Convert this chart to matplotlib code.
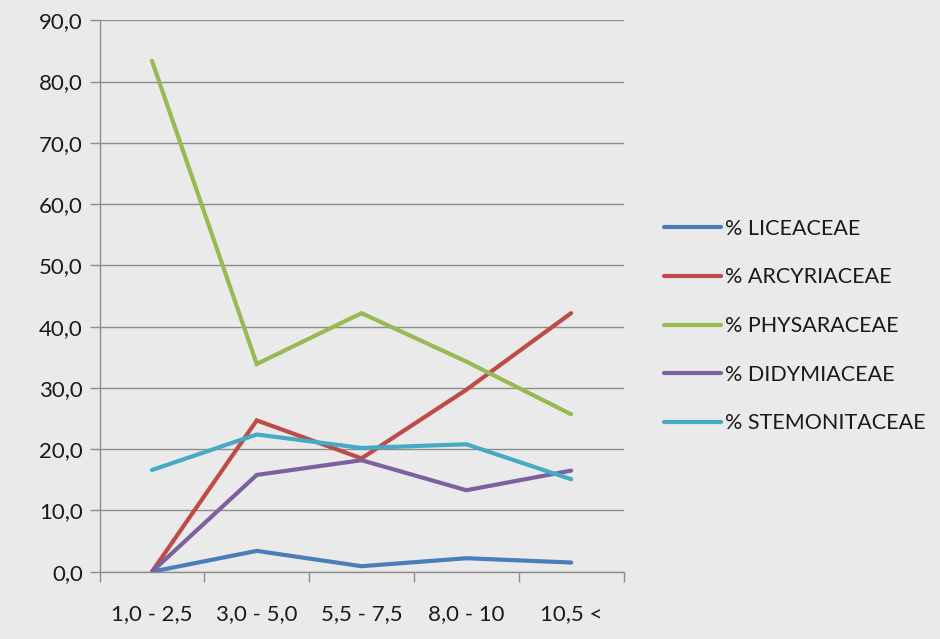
import matplotlib
matplotlib.use("Agg")
import matplotlib.pyplot as plt
from matplotlib.ticker import FixedLocator, FuncFormatter

# Size classes (cm) and share of each family (%)
categories = ["1,0 - 2,5", "3,0 - 5,0", "5,5 - 7,5", "8,0 - 10", "10,5 <"]
liceaceae = [0.0, 3.4, 0.9, 2.2, 1.5]
arcyriaceae = [0.0, 24.7, 18.5, 29.7, 42.2]
physaraceae = [83.4, 33.9, 42.2, 34.3, 25.7]
didymiaceae = [0.0, 15.8, 18.2, 13.3, 16.5]
stemonitaceae = [16.6, 22.4, 20.2, 20.8, 15.1]

series = [
    ("% LICEACEAE", liceaceae, "#4A7EBB"),
    ("% ARCYRIACEAE", arcyriaceae, "#BE4B48"),
    ("% PHYSARACEAE", physaraceae, "#98B954"),
    ("% DIDYMIACEAE", didymiaceae, "#7D60A0"),
    ("% STEMONITACEAE", stemonitaceae, "#46AAC5"),
]

plt.rcParams["font.family"] = ["Lato", "DejaVu Sans"]
bg = "#EAEAEA"
grid_c = "#8E8E8E"

fig = plt.figure(figsize=(9.4, 6.39), dpi=100, facecolor=bg)
ax = fig.add_axes([0.1059, 0.1053, 0.5574, 0.8629], facecolor=bg)

x = list(range(len(categories)))
for label, vals, color in series:
    ax.plot(x, vals, color=color, lw=3.0, label=label,
            solid_capstyle="round", solid_joinstyle="miter", zorder=3)

ax.set_xlim(-0.5, len(categories) - 0.5)
ax.set_ylim(0, 90)

ax.yaxis.set_major_locator(FixedLocator(range(0, 91, 10)))
ax.yaxis.set_major_formatter(FuncFormatter(lambda v, p: f"{v:.1f}".replace(".", ",")))
ax.grid(axis="y", color=grid_c, lw=1.0, zorder=1)

# Ticks between categories, labels centred on each category
ax.xaxis.set_major_locator(FixedLocator([i - 0.5 for i in range(len(categories) + 1)]))
ax.xaxis.set_major_formatter(FuncFormatter(lambda v, p: ""))
ax.xaxis.set_minor_locator(FixedLocator(x))
ax.set_xticklabels(categories, minor=True)
ax.tick_params(axis="x", which="major", length=7, width=1, color=grid_c, direction="out")
ax.tick_params(axis="x", which="minor", length=0, pad=23, labelsize=16, labelcolor="#1a1a1a")
ax.tick_params(axis="y", length=7, width=1, color=grid_c, direction="out",
               labelsize=16, labelcolor="#1a1a1a", pad=5)

for side in ("top", "right"):
    ax.spines[side].set_visible(False)
for side in ("left", "bottom"):
    ax.spines[side].set_color(grid_c)
    ax.spines[side].set_linewidth(1.0)

leg = fig.legend(loc="upper left", bbox_to_anchor=(0.697, 0.671), frameon=False,
                 fontsize=15.5, handlelength=2.65, handletextpad=0.2,
                 labelspacing=1.33, borderaxespad=0)
for t in leg.get_texts():
    t.set_color("#1a1a1a")

fig.savefig("out.png", dpi=100, facecolor=bg)
